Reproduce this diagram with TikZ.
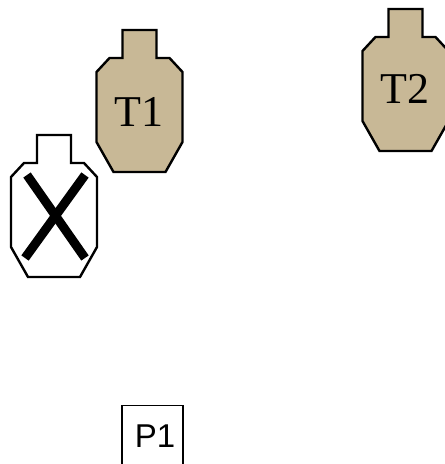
\documentclass[tikz,border=0pt]{standalone}
\usepackage{fontspec}
\setmainfont{Liberation Serif}
\newfontfamily\labelsans{Liberation Sans}
\definecolor{targettan}{RGB}{200,184,150}
\tikzset{
  targetfill/.initial=white,
  silhouette/.pic={
    \draw[line width=2.4pt, line join=miter, fill=\pgfkeysvalueof{/tikz/targetfill}]
      (-17,0) -- (17,0) -- (17,28) -- (30,28) -- (43,42) -- (43,112)
      -- (26,142) -- (-26,142) -- (-43,112) -- (-43,42) -- (-30,28)
      -- (-17,28) -- cycle;
  },
  tlabel/.style={font=\fontsize{44}{44}\selectfont, inner sep=0pt},
  plabel/.style={font=\labelsans\fontsize{33}{33}\selectfont, inner sep=0pt},
  crossline/.style={line width=9pt},
}
\begin{document}
\begin{tikzpicture}[x=1pt, y=-1pt]
  \useasboundingbox (0,0) rectangle (445,464);
  \clip (0,0) rectangle (445,464);
  % targets
  \pic[targetfill=targettan] (t1) at (139.5,30) {silhouette};
  \pic[targetfill=targettan] (t2) at (405.5,9) {silhouette};
  \pic (tx) at (54,135) {silhouette};
  % neutralised target
  \coordinate (xa) at (27,175);
  \coordinate (xb) at (85,258);
  \coordinate (xc) at (85,175);
  \coordinate (xd) at (25,258);
  \draw[crossline] (xa) -- (xb);
  \draw[crossline] (xc) -- (xd);
  % labels
  \node[tlabel] (l1) at (139,112) {T1};
  \node[tlabel] (l2) at (405,89) {T2};
  % position marker
  \draw[line width=1.8pt] (122,480) -- (122,405.5) -- (183,405.5) -- (183,480);
  \node[plabel] (p1) at (155,436) {P1};
\end{tikzpicture}
\end{document}
